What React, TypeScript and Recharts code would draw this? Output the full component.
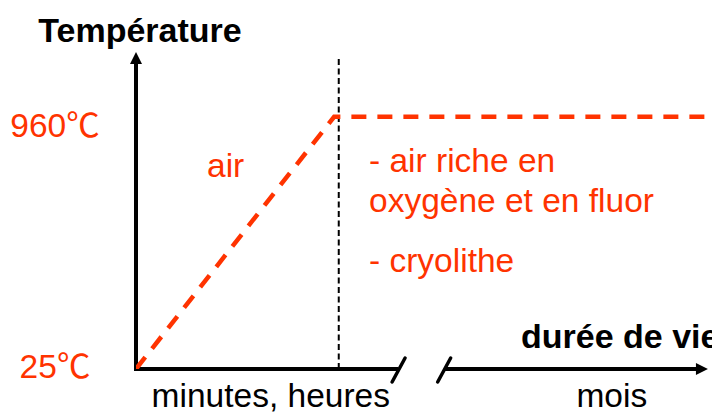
import React from "react";
import {
  ComposedChart,
  Line,
  XAxis,
  YAxis,
  ReferenceLine,
  Customized,
} from "recharts";

// ---- data ----
const timeAxis = [0, 34.4, 100];
const temperature = [25, 960, 960];
const yTickValues = [25, 960];
const yTickLabels = ["25℃", "960℃"];
const xCategoryCenters = [23.4, 82.6];
const xCategoryLabels = ["minutes, heures", "mois"];
const phaseBoundary = 35.2;
const axisBreak = [45.5, 53.5];
const axisEnd = 99.3;
const tempMin = 25;
const tempMax = 1200;
const boundaryTop = 1178;

const chartData = timeAxis.map((t, i) => ({ t, temp: temperature[i] }));

// ---- styles ----
const RED = "#FF3300";
const FONT = "'Liberation Sans', Arial, 'Noto Sans CJK SC', sans-serif";
const CJK = "'Noto Sans CJK SC', 'Noto Sans CJK JP', sans-serif";
const FS = 33.5;
const AXIS_W = 4;
const yLabelDy = [9, 20];

const slash = (cx: number, cy: number, key: string) => (
  <line
    key={key}
    x1={cx - 6.5}
    y1={cy + 12}
    x2={cx + 6.5}
    y2={cy - 12}
    stroke="#000"
    strokeWidth={3.5}
    strokeLinecap="round"
  />
);

const YAxisShape = (p: any) => {
  const { x1, y1, y2 } = p;
  return (
    <g>
      <line x1={x1} y1={y1 + 2} x2={x1} y2={y2 + 10} stroke="#000" strokeWidth={AXIS_W} />
      <polygon points={`${x1},${y2} ${x1 - 6},${y2 + 12} ${x1 + 6},${y2 + 12}`} fill="#000" />
    </g>
  );
};

const XLeftShape = (p: any) => {
  const { x1, y1, x2 } = p;
  return (
    <g>
      <line x1={x1 - 2} y1={y1} x2={x2} y2={y1} stroke="#000" strokeWidth={AXIS_W} />
      {slash(x2 + 0.5, y1 + 1, "s1")}
    </g>
  );
};

const XRightShape = (p: any) => {
  const { x1, y1, x2 } = p;
  return (
    <g>
      <line x1={x1} y1={y1} x2={x2 - 10} y2={y1} stroke="#000" strokeWidth={AXIS_W} />
      {slash(x1, y1 + 1, "s2")}
      <polygon points={`${x2},${y1} ${x2 - 12},${y1 - 6} ${x2 - 12},${y1 + 6}`} fill="#000" />
    </g>
  );
};

const YTick = (props: any) => {
  const { y, index } = props;
  const label: string = yTickLabels[index] || "";
  const num = label.replace("℃", "");
  const hasUnit = label.indexOf("℃") >= 0;
  return (
    <text
      x={55}
      y={y + yLabelDy[index]}
      textAnchor="middle"
      fontSize={FS}
      fontFamily={FONT}
      fill={RED}
    >
      <tspan>{num}</tspan>
      {hasUnit ? <tspan fontFamily={CJK}>℃</tspan> : null}
    </text>
  );
};

const XTick = (props: any) => {
  const { x, y, index } = props;
  return (
    <text x={x} y={y + 38} textAnchor="middle" fontSize={FS} fontFamily={FONT} fill="#000">
      {xCategoryLabels[index]}
    </text>
  );
};

const Annotations = () => (
  <g fontFamily={FONT} fontSize={FS}>
    <text x={140} y={41.5} textAnchor="middle" fontWeight="bold" fontSize={34} fill="#000">
      Température
    </text>
    <text x={521} y={348} textAnchor="start" fontWeight="bold" fontSize={34} fill="#000">
      durée de vie
    </text>
    <text x={207} y={177} fill={RED}>air</text>
    <text x={369} y={172} fill={RED}>- air riche en</text>
    <text x={369} y={212} fill={RED}>oxygène et en fluor</text>
    <text x={369} y={272} fill={RED}>- cryolithe</text>
  </g>
);

export default function App() {
  return (
    <div style={{ position: "absolute", left: 0, top: 0, width: 712, height: 412, background: "#fff" }}>
      <ComposedChart
        width={712}
        height={412}
        data={chartData}
        margin={{ top: 52, right: 0, bottom: 0, left: 0 }}
      >
        <XAxis
          dataKey="t"
          type="number"
          domain={[0, 100]}
          ticks={xCategoryCenters}
          tick={<XTick />}
          axisLine={false}
          tickLine={false}
          tickSize={0}
          tickMargin={0}
          height={43}
          allowDataOverflow
        />
        <YAxis
          type="number"
          domain={[tempMin, tempMax]}
          ticks={yTickValues}
          tick={<YTick />}
          axisLine={false}
          tickLine={false}
          width={136}
          allowDataOverflow
        />
        <ReferenceLine
          segment={[
            { x: phaseBoundary, y: tempMin },
            { x: phaseBoundary, y: boundaryTop },
          ]}
          stroke="#000"
          strokeWidth={2}
          strokeDasharray="6 3.5"
          ifOverflow="visible"
        />
        <ReferenceLine
          segment={[
            { x: 0, y: tempMin },
            { x: 0, y: tempMax },
          ]}
          shape={YAxisShape}
          ifOverflow="visible"
        />
        <ReferenceLine
          segment={[
            { x: 0, y: tempMin },
            { x: axisBreak[0], y: tempMin },
          ]}
          shape={XLeftShape}
          ifOverflow="visible"
        />
        <ReferenceLine
          segment={[
            { x: axisBreak[1], y: tempMin },
            { x: axisEnd, y: tempMin },
          ]}
          shape={XRightShape}
          ifOverflow="visible"
        />
        <Line
          type="linear"
          dataKey="temp"
          stroke={RED}
          strokeWidth={4.5}
          strokeDasharray="15 11"
          dot={false}
          activeDot={false}
          isAnimationActive={false}
        />
        <Customized component={Annotations} />
      </ComposedChart>
    </div>
  );
}
